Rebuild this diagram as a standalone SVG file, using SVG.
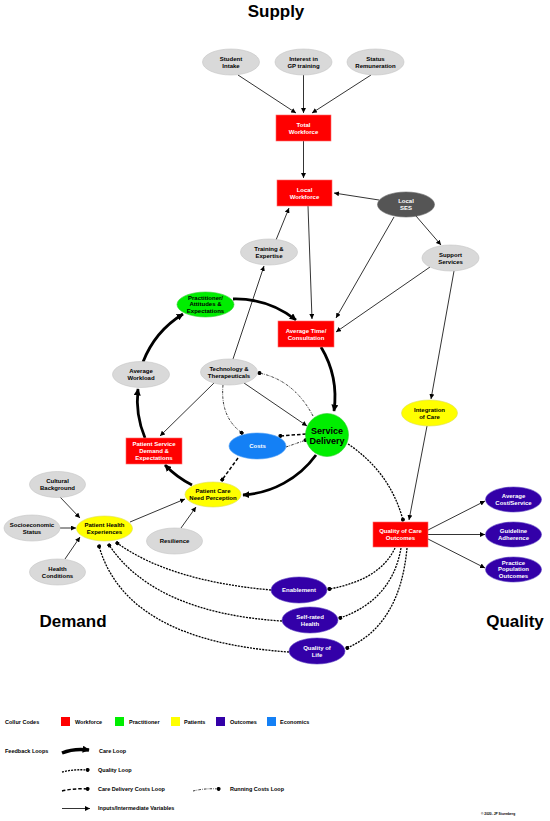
<svg xmlns="http://www.w3.org/2000/svg" width="550" height="821" viewBox="0 0 550 821">
<style>
text{font-family:"Liberation Sans",Arial,sans-serif;font-weight:bold}
.t{font-size:6px;text-anchor:middle;fill:#000}
.tw{font-size:6px;text-anchor:middle;fill:#fff}
.title{font-size:17px;text-anchor:middle}
.leg{font-size:5.5px}
.gray{fill:#d9d9d9;stroke:#c4c4c4;stroke-width:0.6}
.dark{fill:#555;stroke:#666;stroke-width:0.6}
.red{fill:#ff0000;stroke:#ff6a6a;stroke-width:0.6}
.green{fill:#00ee00;stroke:#33cc33;stroke-width:0.6}
.yellow{fill:#ffff00;stroke:#dddd55;stroke-width:0.6}
.purple{fill:#3300a8;stroke:#5a40c0;stroke-width:0.6}
.blue{fill:#1480f5;stroke:#4a9cf5;stroke-width:0.6}
.in{fill:none;stroke:#000;stroke-width:0.8;marker-end:url(#arr)}
.care{fill:none;stroke:#000;stroke-width:2.8;marker-end:url(#carr)}
.qual{fill:none;stroke:#000;stroke-width:1.3;stroke-dasharray:2 1.1;marker-end:url(#dot)}
.cdc{fill:none;stroke:#000;stroke-width:1.5;stroke-dasharray:3.5 2;marker-end:url(#dot)}
.run{fill:none;stroke:#000;stroke-width:0.8;stroke-dasharray:2.5 1.2 0.7 1.2;marker-end:url(#dot)}
</style>
<defs>
<marker id="arr" viewBox="0 0 10 10" refX="10" refY="5" markerWidth="5" markerHeight="5" markerUnits="userSpaceOnUse" orient="auto"><path d="M0,0 L10,5 L0,10 z" fill="#000"/></marker>
<marker id="carr" viewBox="0 0 10 10" refX="9" refY="5" markerWidth="7" markerHeight="7" markerUnits="userSpaceOnUse" orient="auto"><path d="M0,0 L10,5 L0,10 z" fill="#000"/></marker>
<marker id="dot" viewBox="0 0 10 10" refX="6" refY="5" markerWidth="4" markerHeight="4" markerUnits="userSpaceOnUse" orient="auto"><circle cx="5" cy="5" r="5" fill="#000"/></marker>
</defs>
<rect width="550" height="821" fill="#fff"/>
<text class="title" x="276" y="17">Supply</text>
<text class="title" x="73" y="627">Demand</text>
<text class="title" x="515" y="627">Quality</text>
<g id="connectors">
<path class="in" d="M238 75 L296 113"/>
<path class="in" d="M303.5 75 L303.5 113"/>
<path class="in" d="M371 75 L312 113"/>
<path class="in" d="M303.5 141 L303.5 178"/>
<path class="in" d="M379 200 L334 193"/>
<path class="in" d="M416 216 L441 245"/>
<path class="in" d="M276 240 L289 208"/>
<path class="in" d="M233 359 L264 266"/>
<path class="in" d="M308 206 L312 319"/>
<path class="in" d="M394 217 L336 318"/>
<path class="in" d="M430 267 L336 332"/>
<path class="in" d="M454 271 L431 399"/>
<path class="in" d="M427 426 L409 520"/>
<path class="in" d="M428 530 L485 501"/>
<path class="in" d="M428 534.5 L485 534.5"/>
<path class="in" d="M428 539 L485 568"/>
<path class="in" d="M214 383 L160 436"/>
<path class="in" d="M244 383 L307 426"/>
<path class="in" d="M60 497 L80 518"/>
<path class="in" d="M60 528 L76 528"/>
<path class="in" d="M65 559 L80 537"/>
<path class="in" d="M130 522 L185 499"/>
<path class="in" d="M181 528 L196 507"/>
<path class="care" d="M233 299 A98 98 0 0 1 296 320"/>
<path class="care" d="M321 347 A98 98 0 0 1 334 411"/>
<path class="care" d="M316 455 A98 98 0 0 1 243 495"/>
<path class="care" d="M192 485 A98 98 0 0 1 165 465"/>
<path class="care" d="M145 438 A98 98 0 0 1 138 389"/>
<path class="care" d="M143 362 A98 98 0 0 1 183 314"/>
<path class="qual" d="M348 444 Q390 472 403 520"/>
<path class="qual" d="M395 548 Q380 580 329 589"/>
<path class="qual" d="M401 548 Q392 600 340 618"/>
<path class="qual" d="M407 548 Q400 625 347 648"/>
<path class="qual" d="M271 590 Q170 581 117 543"/>
<path class="qual" d="M282 621 Q155 613 109 545"/>
<path class="qual" d="M289 652 Q126 641 99 546"/>
<path class="cdc" d="M306 434 L280 436"/>
<path class="cdc" d="M238 458 L222 480"/>
<path class="run" d="M286 447 L306 440"/>
<path class="run" d="M313 416 Q294 380 259 373"/>
<path class="run" d="M223 385 Q220 417 242 433"/>
</g>
<g id="student"><ellipse class="gray" cx="231" cy="62" rx="28.5" ry="13"/><text class="t" x="231" y="60.7">Student<tspan x="231" dy="6.8">Intake</tspan></text></g>
<g id="interest"><ellipse class="gray" cx="303.5" cy="62" rx="28.5" ry="13"/><text class="t" x="303.5" y="60.7">Interest in<tspan x="303.5" dy="6.8">GP training</tspan></text></g>
<g id="status"><ellipse class="gray" cx="375.5" cy="62" rx="28.5" ry="13"/><text class="t" x="375.5" y="60.7">Status<tspan x="375.5" dy="6.8">Remuneration</tspan></text></g>
<g id="total-workforce"><rect class="red" x="276" y="115" width="55" height="26"/><text class="tw" x="303.5" y="126.7">Total<tspan x="303.5" dy="6.8">Workforce</tspan></text></g>
<g id="local-workforce"><rect class="red" x="277" y="180" width="55" height="26"/><text class="tw" x="304.5" y="191.7">Local<tspan x="304.5" dy="6.8">Workforce</tspan></text></g>
<g id="local-ses"><ellipse class="dark" cx="406" cy="204.5" rx="28.5" ry="12.5"/><text class="tw" x="406" y="203.2">Local<tspan x="406" dy="6.8">SES</tspan></text></g>
<g id="support-services"><ellipse class="gray" cx="450.5" cy="258" rx="28.5" ry="13"/><text class="t" x="450.5" y="256.7">Support<tspan x="450.5" dy="6.8">Services</tspan></text></g>
<g id="training"><ellipse class="gray" cx="269" cy="252" rx="28.5" ry="13"/><text class="t" x="269" y="250.7">Training &amp;<tspan x="269" dy="6.8">Expertise</tspan></text></g>
<g id="practitioner"><ellipse class="green" cx="205.5" cy="304.5" rx="28.5" ry="12.5"/><text class="t" x="205.5" y="299.7">Practitioner/<tspan x="205.5" dy="6.7">Attitudes &amp;</tspan><tspan x="205.5" dy="6.7">Expectations</tspan></text></g>
<g id="average-time"><rect class="red" x="278" y="321" width="56" height="26"/><text class="tw" x="306" y="332.7">Average Time/<tspan x="306" dy="6.8">Consultation</tspan></text></g>
<g id="average-workload"><ellipse class="gray" cx="141" cy="374.5" rx="28.5" ry="13"/><text class="t" x="141" y="373.2">Average<tspan x="141" dy="6.8">Workload</tspan></text></g>
<g id="technology"><ellipse class="gray" cx="229" cy="372" rx="28.5" ry="13"/><text class="t" x="229" y="370.7">Technology &amp;<tspan x="229" dy="6.8">Therapeuticals</tspan></text></g>
<g id="service-delivery"><circle class="green" cx="327" cy="435" r="21.5"/><text class="t" x="327" y="433.5" style="font-size:9px">Service<tspan x="327" dy="10">Delivery</tspan></text></g>
<g id="costs"><ellipse class="blue" cx="257.5" cy="446" rx="28.5" ry="13"/><text class="tw" x="257.5" y="448">Costs</text></g>
<g id="integration"><ellipse class="yellow" cx="429.5" cy="413" rx="28" ry="13"/><text class="t" x="429.5" y="411.7">Integration<tspan x="429.5" dy="6.8">of Care</tspan></text></g>
<g id="patient-service-demand"><rect class="red" x="126" y="438" width="56" height="26"/><text class="tw" x="154" y="446.2">Patient Service<tspan x="154" dy="6.7">Demand &amp;</tspan><tspan x="154" dy="6.7">Expectations</tspan></text></g>
<g id="patient-care-need"><ellipse class="yellow" cx="213" cy="494.5" rx="28" ry="12.5"/><text class="t" x="213" y="493.2">Patient Care<tspan x="213" dy="6.8">Need Perception</tspan></text></g>
<g id="patient-health"><ellipse class="yellow" cx="104.5" cy="528.5" rx="28" ry="12.5"/><text class="t" x="104.5" y="527.2">Patient Health<tspan x="104.5" dy="6.8">Experiences</tspan></text></g>
<g id="cultural"><ellipse class="gray" cx="57.5" cy="484.5" rx="28" ry="13"/><text class="t" x="57.5" y="483.2">Cultural<tspan x="57.5" dy="6.8">Background</tspan></text></g>
<g id="socioeconomic"><ellipse class="gray" cx="32" cy="528" rx="28" ry="13"/><text class="t" x="32" y="526.7">Socioeconomic<tspan x="32" dy="6.8">Status</tspan></text></g>
<g id="health-conditions"><ellipse class="gray" cx="57.5" cy="572" rx="28" ry="13"/><text class="t" x="57.5" y="570.7">Health<tspan x="57.5" dy="6.8">Conditions</tspan></text></g>
<g id="resilience"><ellipse class="gray" cx="174.5" cy="541" rx="28" ry="13"/><text class="t" x="174.5" y="543.1">Resilience</text></g>
<g id="quality-of-care"><rect class="red" x="373" y="522" width="55" height="25"/><text class="tw" x="400.5" y="533.2">Quality of Care<tspan x="400.5" dy="6.8">Outcomes</tspan></text></g>
<g id="average-cost"><ellipse class="purple" cx="513.5" cy="499.5" rx="28" ry="12.5"/><text class="tw" x="513.5" y="498.2">Average<tspan x="513.5" dy="6.8">Cost/Service</tspan></text></g>
<g id="guideline"><ellipse class="purple" cx="513.5" cy="534.5" rx="28" ry="12.5"/><text class="tw" x="513.5" y="533.2">Guideline<tspan x="513.5" dy="6.8">Adherence</tspan></text></g>
<g id="practice-population"><ellipse class="purple" cx="513.5" cy="569.5" rx="28" ry="12.5"/><text class="tw" x="513.5" y="564.7">Practice<tspan x="513.5" dy="6.7">Population</tspan><tspan x="513.5" dy="6.7">Outcomes</tspan></text></g>
<g id="enablement"><ellipse class="purple" cx="299" cy="590" rx="28" ry="13"/><text class="tw" x="299" y="592.1">Enablement</text></g>
<g id="self-rated"><ellipse class="purple" cx="310" cy="620" rx="28" ry="13"/><text class="tw" x="310" y="618.7">Self-rated<tspan x="310" dy="6.8">Health</tspan></text></g>
<g id="quality-of-life"><ellipse class="purple" cx="317" cy="651" rx="28" ry="13"/><text class="tw" x="317" y="649.7">Quality of<tspan x="317" dy="6.8">Life</tspan></text></g>
<g id="legend">
<text class="leg" x="5" y="724">Collur Codes</text>
<rect x="61" y="717" width="9" height="9" fill="#ff0000"/><text class="leg" x="75" y="724">Workforce</text>
<rect x="115" y="717" width="9" height="9" fill="#00ee00"/><text class="leg" x="129" y="724">Practitioner</text>
<rect x="171" y="717" width="9" height="9" fill="#ffff00"/><text class="leg" x="184" y="724">Patients</text>
<rect x="216" y="717" width="9" height="9" fill="#3300a8"/><text class="leg" x="230" y="724">Outcomes</text>
<rect x="267" y="717" width="9" height="9" fill="#1480f5"/><text class="leg" x="280" y="724">Economics</text>
<text class="leg" x="5" y="753">Feedback Loops</text>
<path class="care" d="M62 753 Q74 748 89 750" style="stroke-width:3.5"/><text class="leg" x="99" y="753">Care Loop</text>
<path class="qual" d="M62 772 Q74 769 88 770"/><text class="leg" x="98" y="772">Quality Loop</text>
<path class="cdc" d="M62 791 Q74 788 88 789"/><text class="leg" x="98" y="791">Care Delivery Costs Loop</text>
<path class="run" d="M193 791 Q205 788 219 789"/><text class="leg" x="230" y="791">Running Costs Loop</text>
<path class="in" d="M62 808.5 L90 808.5"/><text class="leg" x="98" y="810">Inputs/Intermediate Variables</text>
<text x="481" y="814.5" style="font-size:3.3px">© 2020- JP Sturmberg</text>
</g>
</svg>
